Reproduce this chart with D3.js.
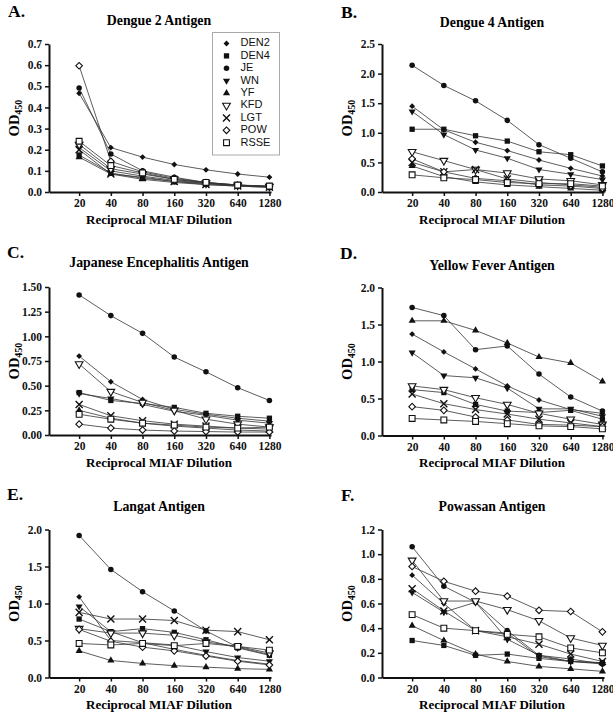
<!DOCTYPE html>
<html><head><meta charset="utf-8">
<script src="https://cdn.jsdelivr.net/npm/d3@7"></script>
<style>
body{margin:0;background:#fff;}
svg{display:block;}
.tk text{font-family:"Liberation Serif","Times New Roman",serif;font-weight:bold;font-size:11.5px;fill:#111;}
.tk path,.tk line{stroke:#111;}
</style></head>
<body>
<script>
// ---------- data ----------
const dilutions = ["20","40","80","160","320","640","1280"];
const seriesNames = ["DEN2","DEN4","JE","WN","YF","KFD","LGT","POW","RSSE"];

// each array: one row per series (order as seriesNames), values at each dilution
const dengue2 = [
  [0.467,0.21,0.165,0.13,0.105,0.085,0.07],
  [0.175,0.09,0.065,0.05,0.04,0.032,0.028],
  [0.492,0.18,0.10,0.07,0.045,0.033,0.025],
  [0.21,0.10,0.075,0.055,0.04,0.03,0.025],
  [0.165,0.085,0.06,0.045,0.035,0.028,0.022],
  [0.225,0.11,0.085,0.06,0.042,0.032,0.026],
  [0.20,0.085,0.07,0.05,0.035,0.028,0.022],
  [0.597,0.145,0.095,0.065,0.045,0.033,0.025],
  [0.24,0.125,0.09,0.06,0.045,0.033,0.028]
];
const dengue4 = [
  [1.45,1.05,0.84,0.70,0.54,0.40,0.27],
  [1.06,1.06,0.95,0.86,0.68,0.63,0.44],
  [2.14,1.80,1.54,1.21,0.80,0.57,0.34],
  [1.36,0.97,0.71,0.57,0.38,0.30,0.21],
  [0.44,0.26,0.17,0.12,0.09,0.06,0.03],
  [0.68,0.53,0.38,0.32,0.22,0.19,0.12],
  [0.50,0.34,0.38,0.22,0.16,0.12,0.08],
  [0.56,0.34,0.23,0.19,0.12,0.10,0.06],
  [0.29,0.24,0.21,0.16,0.14,0.14,0.10]
];
const japEnc = [
  [0.80,0.54,0.36,0.26,0.21,0.17,0.14],
  [0.43,0.35,0.32,0.28,0.22,0.19,0.17],
  [1.42,1.21,1.03,0.79,0.64,0.48,0.35],
  [0.42,0.37,0.31,0.24,0.20,0.15,0.12],
  [0.25,0.17,0.12,0.09,0.07,0.05,0.04],
  [0.72,0.44,0.33,0.25,0.16,0.11,0.08],
  [0.31,0.195,0.145,0.11,0.09,0.07,0.06],
  [0.11,0.07,0.05,0.04,0.035,0.03,0.03],
  [0.21,0.16,0.12,0.10,0.08,0.07,0.08]
];
const yellowFever = [
  [1.37,1.13,0.90,0.67,0.48,0.35,0.30],
  [0.62,0.58,0.42,0.33,0.31,0.34,0.22],
  [1.73,1.62,1.16,1.21,0.83,0.52,0.33],
  [1.12,0.81,0.78,0.64,0.36,0.36,0.26],
  [1.55,1.55,1.42,1.25,1.06,0.98,0.73],
  [0.67,0.62,0.51,0.42,0.30,0.22,0.15],
  [0.56,0.43,0.35,0.29,0.22,0.17,0.12],
  [0.39,0.34,0.25,0.21,0.15,0.14,0.12],
  [0.23,0.21,0.19,0.16,0.13,0.12,0.09]
];
const langat = [
  [1.09,0.50,0.47,0.38,0.30,0.23,0.18],
  [0.79,0.62,0.66,0.61,0.51,0.40,0.30],
  [1.92,1.46,1.16,0.90,0.63,0.41,0.31],
  [0.96,0.62,0.47,0.44,0.35,0.27,0.22],
  [0.36,0.23,0.19,0.16,0.14,0.12,0.11],
  [0.66,0.60,0.60,0.57,0.48,0.42,0.33],
  [0.88,0.79,0.79,0.77,0.64,0.62,0.51],
  [0.65,0.49,0.41,0.36,0.29,0.22,0.17],
  [0.46,0.44,0.46,0.43,0.46,0.42,0.37]
];
const powassan = [
  [0.83,0.60,0.38,0.36,0.17,0.13,0.12],
  [0.30,0.26,0.18,0.19,0.155,0.13,0.12],
  [1.06,0.74,0.61,0.38,0.18,0.15,0.11],
  [0.69,0.53,0.61,0.31,0.18,0.13,0.11],
  [0.42,0.30,0.19,0.13,0.09,0.07,0.05],
  [0.95,0.62,0.62,0.55,0.46,0.32,0.26],
  [0.72,0.54,0.38,0.33,0.27,0.19,0.13],
  [0.90,0.78,0.70,0.66,0.545,0.535,0.37],
  [0.51,0.40,0.38,0.35,0.33,0.24,0.20]
];

const ticksA = [0,0.1,0.2,0.3,0.4,0.5,0.6,0.7];
const ticksB = [0,0.5,1.0,1.5,2.0,2.5];
const ticksC = [0,0.25,0.5,0.75,1.0,1.25,1.5];
const ticksD = [0,0.5,1.0,1.5,2.0];
const ticksE = [0,0.5,1.0,1.5,2.0];
const ticksF = [0,0.2,0.4,0.6,0.8,1.0,1.2];

const panelLetters = ["A.","B.","C.","D.","E.","F."];
const panelTitles = ["Dengue 2 Antigen","Dengue 4 Antigen","Japanese Encephalitis Antigen","Yellow Fever Antigen","Langat Antigen","Powassan Antigen"];

// ---------- drawing ----------
const W = 613, H = 715;
const svg = d3.select("body").append("svg").attr("width", W).attr("height", H);

const panels = [
  {data: dengue2, ticks: ticksA, fmt: ".1f", x0: 49, top: 44, titleY: 22, letterX: 8, letterY: 17},
  {data: dengue4, ticks: ticksB, fmt: ".1f", x0: 382, top: 44, titleY: 24, letterX: 341, letterY: 18},
  {data: japEnc, ticks: ticksC, fmt: ".2f", x0: 49, top: 287, titleY: 264, letterX: 7, letterY: 258},
  {data: yellowFever, ticks: ticksD, fmt: ".1f", x0: 382, top: 287.5, titleY: 266.5, letterX: 340, letterY: 259},
  {data: langat, ticks: ticksE, fmt: ".1f", x0: 49, top: 529.5, titleY: 507.5, letterX: 7, letterY: 500},
  {data: powassan, ticks: ticksF, fmt: ".1f", x0: 382, top: 529.5, titleY: 507.5, letterX: 341, letterY: 501}
];
const PW = 222, PH = 148;

const symDefs = [
  {type: d3.symbolSquare, size: 17, fill: true, rot: 45},
  {type: d3.symbolSquare, size: 28, fill: true},
  {type: d3.symbolCircle, size: 24, fill: true},
  {type: d3.symbolTriangle, size: 22, fill: true, rot: 180},
  {type: d3.symbolTriangle, size: 22, fill: true},
  {type: d3.symbolTriangle, size: 26, fill: false, rot: 180},
  {type: d3.symbolX, size: 34, fill: false, cross: true},
  {type: d3.symbolSquare, size: 22, fill: false, rot: 45},
  {type: d3.symbolSquare, size: 34, fill: false}
];

function drawSym(g, si, x, y) {
  const s = symDefs[si];
  const p = g.append("path")
    .attr("d", d3.symbol().type(s.type).size(s.size)())
    .attr("transform", `translate(${x},${y})` + (s.rot ? ` rotate(${s.rot})` : ""));
  if (s.cross) p.attr("fill", "none").attr("stroke", "#111").attr("stroke-width", 1.4);
  else if (s.fill) p.attr("fill", "#111").attr("stroke", "none");
  else p.attr("fill", "#fff").attr("stroke", "#111").attr("stroke-width", 1.1);
}

panels.forEach((P, pi) => {
  const g = svg.append("g");
  const ymax = P.ticks[P.ticks.length - 1];
  const x = d3.scaleLinear().domain([0.05, 7.05]).range([P.x0, P.x0 + PW]);
  const y = d3.scaleLinear().domain([0, ymax]).range([P.top + PH, P.top]);

  g.append("text").attr("x", P.letterX).attr("y", P.letterY)
    .attr("font-family", "Liberation Serif, serif").attr("font-weight", "bold")
    .attr("font-size", 17.5).text(panelLetters[pi]);
  g.append("text").attr("x", P.x0 + 110).attr("y", P.titleY).attr("text-anchor", "middle")
    .attr("dominant-baseline", "middle")
    .attr("font-family", "Liberation Serif, serif").attr("font-weight", "bold")
    .attr("font-size", 13.8).text(panelTitles[pi]);

  const line = d3.line().x((d, i) => x(i + 1)).y(d => y(d));
  P.data.forEach(vals => {
    g.append("path").attr("d", line(vals)).attr("fill", "none")
      .attr("stroke", "#333").attr("stroke-width", 0.8);
  });
  P.data.forEach((vals, si) => {
    vals.forEach((v, i) => drawSym(g, si, x(i + 1), y(v)));
  });

  const xa = g.append("g").attr("class", "tk").attr("transform", `translate(0,${P.top + PH})`)
    .call(d3.axisBottom(x).tickValues([1,2,3,4,5,6,7]).tickFormat((d) => dilutions[d - 1])
      .tickSizeOuter(0).tickSizeInner(4).tickPadding(3));
  xa.select(".domain").attr("stroke-width", 2);
  xa.selectAll(".tick line").attr("stroke-width", 1.5);
  const ya = g.append("g").attr("class", "tk").attr("transform", `translate(${P.x0},0)`)
    .call(d3.axisLeft(y).tickValues(P.ticks).tickFormat(d3.format(P.fmt))
      .tickSizeOuter(0).tickSizeInner(4).tickPadding(3));
  ya.select(".domain").attr("stroke-width", 2);
  ya.selectAll(".tick line").attr("stroke-width", 1.5);

  g.append("text").attr("x", P.x0 + 110).attr("y", P.top + PH + 29)
    .attr("text-anchor", "middle").attr("dominant-baseline", "middle")
    .attr("font-family", "Liberation Serif, serif").attr("font-weight", "bold")
    .attr("font-size", 13).text("Reciprocal MIAF Dilution");
  const yl = g.append("text")
    .attr("transform", `translate(${P.x0 - 33},${P.top + PH / 2}) rotate(-90)`)
    .attr("text-anchor", "middle").attr("dominant-baseline", "middle")
    .attr("font-family", "Liberation Serif, serif").attr("font-weight", "bold")
    .attr("font-size", 14.5);
  yl.append("tspan").text("OD");
  yl.append("tspan").attr("font-size", 10).attr("dy", 4).text("450");
});

// legend (panel A)
const lg = svg.append("g");
lg.append("rect").attr("x", 212.5).attr("y", 32.5).attr("width", 67).attr("height", 122.5)
  .attr("fill", "#fff").attr("stroke", "#aaa").attr("stroke-width", 1);
seriesNames.forEach((n, i) => {
  const yy = 43.5 + i * 12.4;
  drawSym(lg, i, 226.5, yy);
  lg.append("text").attr("x", 240.5).attr("y", yy).attr("dominant-baseline", "middle")
    .attr("font-family", "Liberation Sans, Arial, sans-serif").attr("font-size", 11)
    .attr("fill", "#111").text(n);
});
</script>
</body></html>
